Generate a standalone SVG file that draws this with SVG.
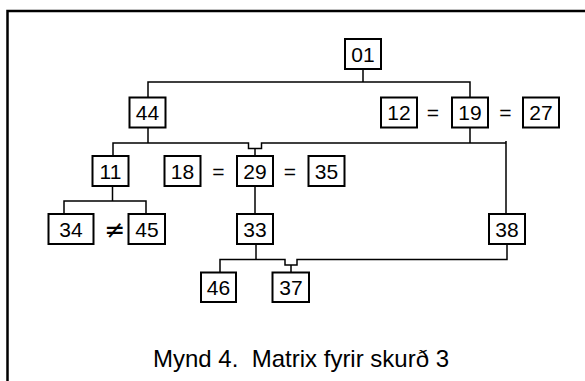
<svg xmlns="http://www.w3.org/2000/svg" width="585" height="381" viewBox="0 0 585 381">
<style>
.b{fill:#fff;stroke:#000;stroke-width:2}
.t{font-family:"Liberation Sans",Arial,sans-serif;font-size:21px;text-anchor:middle;fill:#000}
.ne{font-family:"DejaVu Sans",sans-serif;font-size:25px;text-anchor:middle;fill:#000}
.c{fill:none;stroke:#000;stroke-width:1.5}
.cap{font-family:"Liberation Sans",Arial,sans-serif;font-size:24px;fill:#000;white-space:pre}
</style>
<rect width="585" height="381" fill="#fff"/>
<path d="M7.5,381 V11 H585" fill="none" stroke="#000" stroke-width="2.5"/>
<g id="connectors" class="c">
<path d="M363,69 V82 M148,97.5 V82 H470 V97.5"/>
<path d="M148,127.5 V143 M113,156 V143 H248.5 V148.5 H261.5 V143 H506 M255,148.5 V156 M470,127.5 V143 M506,141 V214"/>
<path d="M112.5,186 V201 M64,214 V201 H146 V214"/>
<path d="M255,186 V214"/>
<path d="M256,244 V259.5 M220,272.5 V259.5 H285 V265 H297 V259.5 H507 V244 M291,265 V272.5"/>
</g>
<g id="n01"><rect class="b" x="345" y="39" width="36" height="30"/><text class="t" x="363" y="61.5">01</text></g>
<g id="n44"><rect class="b" x="129.5" y="97.5" width="36" height="30"/><text class="t" x="147.5" y="120">44</text></g>
<g id="n12"><rect class="b" x="381" y="97.5" width="36" height="30"/><text class="t" x="399" y="120">12</text></g>
<text class="t" x="433" y="120">=</text>
<g id="n19"><rect class="b" x="452" y="97.5" width="36" height="30"/><text class="t" x="470" y="120">19</text></g>
<text class="t" x="505.5" y="120">=</text>
<g id="n27"><rect class="b" x="523" y="97.5" width="36" height="30"/><text class="t" x="541" y="120">27</text></g>
<g id="n11"><rect class="b" x="92.5" y="156" width="36" height="30"/><text class="t" x="110.5" y="178.5">11</text></g>
<g id="n18"><rect class="b" x="164.5" y="156" width="36" height="30"/><text class="t" x="182.5" y="178.5">18</text></g>
<text class="t" x="218.5" y="178.5">=</text>
<g id="n29"><rect class="b" x="237" y="156" width="36" height="30"/><text class="t" x="255" y="178.5">29</text></g>
<text class="t" x="290" y="178.5">=</text>
<g id="n35"><rect class="b" x="308.5" y="156" width="36" height="30"/><text class="t" x="326.5" y="178.5">35</text></g>
<g id="n34"><rect class="b" x="48.5" y="214" width="45" height="30"/><text class="t" x="71" y="236.5">34</text></g>
<text class="ne" x="115" y="237.5">≠</text>
<g id="n45"><rect class="b" x="128.5" y="214" width="36.5" height="30"/><text class="t" x="147" y="236.5">45</text></g>
<g id="n33"><rect class="b" x="237" y="214" width="36" height="30"/><text class="t" x="255" y="236.5">33</text></g>
<g id="n38"><rect class="b" x="489" y="214" width="36" height="30"/><text class="t" x="507" y="236.5">38</text></g>
<g id="n46"><rect class="b" x="201" y="272.5" width="35" height="29.5"/><text class="t" x="218.5" y="295">46</text></g>
<g id="n37"><rect class="b" x="272.5" y="272.5" width="36.5" height="29.5"/><text class="t" x="291" y="295">37</text></g>
<text class="cap" x="153" y="367" xml:space="preserve">Mynd 4.  Matrix fyrir skurð 3</text>
</svg>
